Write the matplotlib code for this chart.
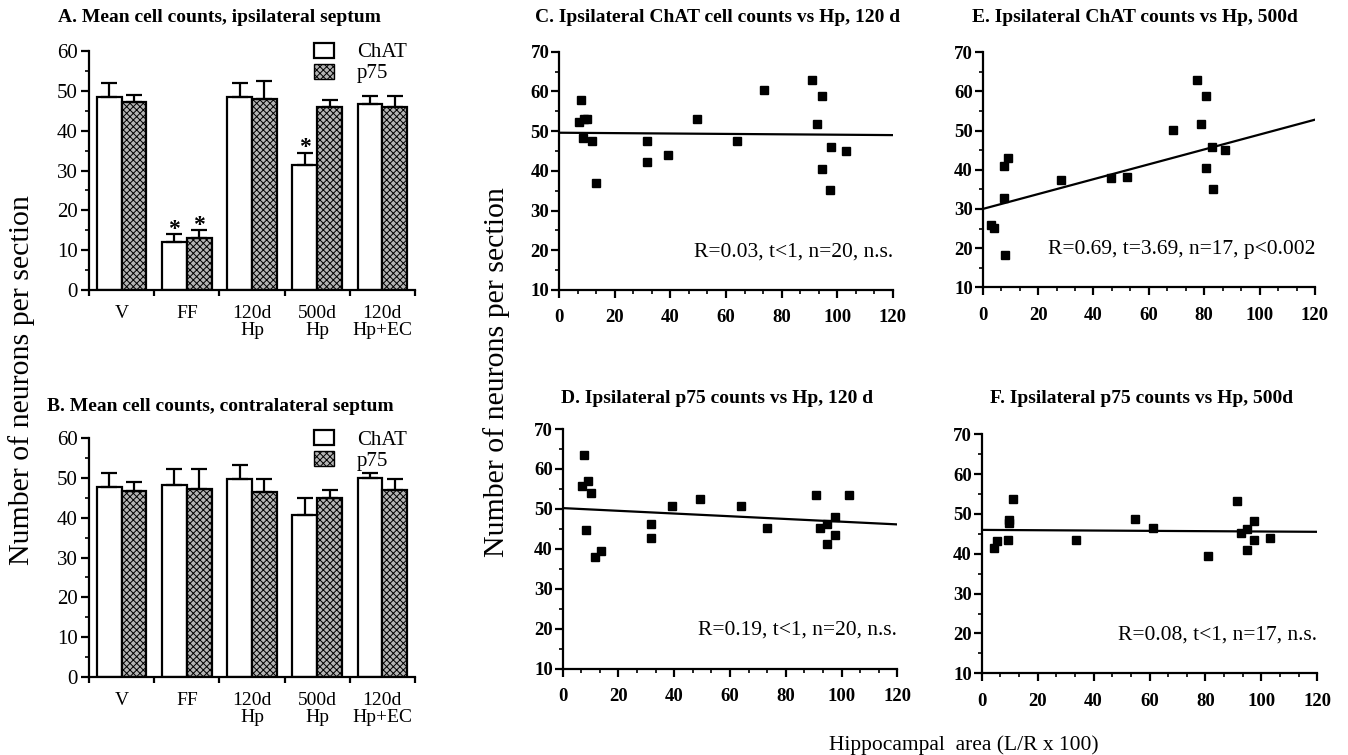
import numpy as np
import matplotlib
matplotlib.use("Agg")
import matplotlib.pyplot as plt
from matplotlib.patches import Patch
from matplotlib.ticker import MultipleLocator, AutoMinorLocator

plt.rcParams['font.family'] = ['Liberation Serif', 'DejaVu Serif']
plt.rcParams['hatch.linewidth'] = 0.7

# ---------------- data ----------------
groups = ["V", "FF", "120d\nHp", "500d\nHp", "120d\nHp+EC"]

# Panel A: ipsilateral septum
A_chat = [48.5, 12.0, 48.5, 31.5, 46.6]
A_chat_err = [3.5, 2.0, 3.5, 3.0, 2.0]
A_p75 = [47.2, 13.0, 48.0, 46.0, 46.0]
A_p75_err = [1.7, 2.0, 4.5, 1.6, 2.6]
A_star_chat = [False, True, False, True, False]
A_star_p75 = [False, True, False, False, False]

# Panel B: contralateral septum
B_chat = [47.9, 48.3, 49.7, 40.7, 50.0]
B_chat_err = [3.5, 4.1, 3.6, 4.4, 1.4]
B_p75 = [46.7, 47.4, 46.6, 45.1, 47.1]
B_p75_err = [2.3, 4.8, 3.1, 1.9, 2.6]

# Panel C: ipsilateral ChAT vs Hp, 120 d
C_x = [7.3, 7.9, 8.6, 9.1, 9.9, 11.8, 13.4, 31.7, 31.7, 39.1, 49.5, 63.8,
       73.6, 90.9, 92.7, 94.6, 94.6, 97.6, 97.5, 103.1]
C_y = [52.2, 57.8, 48.2, 53.0, 53.1, 47.6, 37.0, 47.5, 42.3, 43.9, 53.0, 47.5,
       60.3, 62.8, 51.7, 58.9, 40.5, 45.9, 35.1, 45.1]
C_fit = [49.6, -0.005]          # intercept, slope
C_text = "R=0.03, t<1, n=20, n.s."

# Panel D: ipsilateral p75 vs Hp, 120 d
D_x = [7.8, 6.9, 9.2, 10.2, 8.5, 11.7, 13.7, 31.5, 31.5, 39.2, 49.2, 63.8,
       73.4, 90.9, 92.4, 94.7, 94.7, 97.5, 97.5, 102.7]
D_y = [63.6, 55.7, 56.9, 53.9, 44.8, 38.0, 39.4, 46.2, 42.6, 50.7, 52.4, 50.7,
       45.2, 53.4, 45.3, 46.1, 41.1, 48.0, 43.4, 53.5]
D_fit = [50.2, -0.034]
D_text = "R=0.19, t<1, n=20, n.s."

# Panel E: ipsilateral ChAT vs Hp, 500 d
E_x = [3.0, 4.1, 7.6, 7.8, 9.1, 7.9, 28.4, 46.3, 52.0, 68.6, 77.5, 78.9,
       80.6, 80.6, 82.8, 83.0, 87.4]
E_y = [25.8, 25.1, 32.9, 41.0, 43.1, 18.3, 37.3, 38.0, 38.1, 50.2, 62.9, 51.6,
       58.9, 40.4, 45.9, 35.1, 45.1]
E_fit = [30.0, 0.19]
E_text = "R=0.69, t=3.69, n=17, p<0.002"

# Panel F: ipsilateral p75 vs Hp, 500 d
F_x = [4.3, 5.4, 9.5, 9.7, 9.7, 11.3, 33.6, 54.7, 61.1, 80.8, 91.2, 92.7,
       94.8, 94.9, 97.5, 97.5, 103.0]
F_y = [41.4, 43.1, 43.5, 47.8, 48.5, 53.7, 43.4, 48.7, 46.4, 39.5, 53.3, 45.2,
       46.3, 41.0, 48.2, 43.4, 44.0]
F_fit = [46.0, -0.004]
F_text = "R=0.08, t<1, n=17, n.s."

x_ticks = [0, 20, 40, 60, 80, 100, 120]
y_ticks_scatter = [10, 20, 30, 40, 50, 60, 70]
y_ticks_bar = [0, 10, 20, 30, 40, 50, 60]

# ---------------- figure ----------------
W, H = 1348, 755
fig = plt.figure(figsize=(W / 100, H / 100), dpi=100)


def px_axes(left, right, top, bottom):
    return fig.add_axes([left / W, 1 - bottom / H, (right - left) / W, (bottom - top) / H])


LW = 1.6
hatch_fc = '#b4b4b4'


def style_spines(ax):
    for s in ['top', 'right']:
        ax.spines[s].set_visible(False)
    for s in ['left', 'bottom']:
        ax.spines[s].set_linewidth(LW)


def bar_panel(ax, chat, chat_err, p75, p75_err, star_chat=None, star_p75=None):
    n = len(groups)
    idx = np.arange(n)
    bw = 0.38
    xc = idx + 0.12 + bw / 2
    xp = idx + 0.50 + bw / 2
    ax.bar(xc, chat, width=bw, color='white', edgecolor='black', linewidth=LW, zorder=2)
    ax.bar(xp, p75, width=bw, color=hatch_fc, edgecolor='black', linewidth=LW,
           hatch='xxxxx', zorder=2)
    zeros = np.zeros(n)
    ax.errorbar(xc, chat, yerr=[zeros, chat_err], fmt='none', ecolor='black',
                elinewidth=LW, capsize=5.5, capthick=LW, zorder=3)
    ax.errorbar(xp, p75, yerr=[zeros, p75_err], fmt='none', ecolor='black',
                elinewidth=LW, capsize=5.5, capthick=LW, zorder=3)
    if star_chat is not None:
        for i in range(n):
            if star_chat[i]:
                ax.text(xc[i], chat[i] + chat_err[i] + 1.2, '*', ha='center', va='center',
                        fontsize=17, fontweight='bold')
            if star_p75[i]:
                ax.text(xp[i], p75[i] + p75_err[i] + 1.2, '*', ha='center', va='center',
                        fontsize=17, fontweight='bold')
    ax.set_xlim(0, n)
    ax.set_ylim(0, 60)
    ax.set_yticks(y_ticks_bar)
    ax.yaxis.set_minor_locator(MultipleLocator(5))
    ax.set_xticks(idx + 0.5)
    ax.set_xticklabels(groups, fontsize=14, linespacing=1.0)
    ax.set_xticks(np.arange(n + 1), minor=True)
    ax.tick_params(axis='x', which='major', length=0, pad=11)
    ax.tick_params(axis='x', which='minor', length=4, width=LW, direction='out')
    ax.tick_params(axis='y', which='major', length=6, width=LW, labelsize=15, pad=2)
    ax.tick_params(axis='y', which='minor', length=3, width=1.2)
    style_spines(ax)
    ax.legend(handles=[Patch(facecolor='white', edgecolor='black', linewidth=LW),
                       Patch(facecolor=hatch_fc, edgecolor='black', linewidth=1.0,
                             hatch='xxxxx')],
              labels=['ChAT', 'p75'], loc='upper left', bbox_to_anchor=(0.665, 1.07),
              frameon=False, fontsize=15, handlelength=0.95, handleheight=0.75,
              labelspacing=0.05, handletextpad=1.1, borderaxespad=0)


def scatter_panel(ax, xs, ys, fit, text):
    ax.plot(xs, ys, linestyle='none', marker='s', markersize=6.3, color='black', zorder=3)
    xl = np.array([0, 120])
    ax.plot(xl, fit[0] + fit[1] * xl, color='black', linewidth=1.6, zorder=2)
    ax.set_xlim(0, 120)
    ax.set_ylim(10, 70)
    ax.set_xticks(x_ticks)
    ax.set_yticks(y_ticks_scatter)
    ax.xaxis.set_minor_locator(AutoMinorLocator(3))
    ax.yaxis.set_minor_locator(AutoMinorLocator(2))
    ax.tick_params(axis='both', which='major', length=6, width=LW, labelsize=13.5)
    ax.tick_params(axis='both', which='minor', length=3, width=1.2)
    ax.tick_params(axis='x', which='major', pad=8)
    ax.tick_params(axis='y', which='major', pad=1)
    for lab in ax.get_xticklabels() + ax.get_yticklabels():
        lab.set_fontweight('bold')
    style_spines(ax)
    ax.text(1.0, 0.16, text, transform=ax.transAxes, ha='right', va='center', fontsize=15.5)


axA = px_axes(89, 415, 51, 290)
bar_panel(axA, A_chat, A_chat_err, A_p75, A_p75_err, A_star_chat, A_star_p75)
axB = px_axes(89, 415, 438.5, 676.7)
bar_panel(axB, B_chat, B_chat_err, B_p75, B_p75_err)

axC = px_axes(559, 893, 51.7, 290)
scatter_panel(axC, C_x, C_y, C_fit, C_text)
axD = px_axes(562.7, 897.3, 429, 668.7)
scatter_panel(axD, D_x, D_y, D_fit, D_text)
axE = px_axes(982.7, 1315, 52.3, 287.3)
scatter_panel(axE, E_x, E_y, E_fit, E_text)
axF = px_axes(981.7, 1317.3, 434.3, 673.3)
scatter_panel(axF, F_x, F_y, F_fit, F_text)


def ftext(x, y, s, **kw):
    fig.text(x / W, 1 - y / H, s, **kw)


tkw = dict(ha='center', va='center', fontsize=14, fontweight='bold')
ftext(219, 18, "A. Mean cell counts, ipsilateral septum", **tkw)
ftext(220, 407, "B. Mean cell counts, contralateral septum", **tkw)
ftext(718, 18, "C. Ipsilateral ChAT cell counts vs Hp, 120 d", **tkw)
ftext(1135, 18, "E. Ipsilateral ChAT counts vs Hp, 500d", **tkw)
ftext(717, 398, "D. Ipsilateral p75 counts vs Hp, 120 d", **tkw)
ftext(1142, 398, "F. Ipsilateral p75 counts vs Hp, 500d", **tkw)

ftext(22, 380, "Number of neurons per section", ha='center', va='center',
      rotation=90, fontsize=21.5)
ftext(497, 372, "Number of neurons per section", ha='center', va='center',
      rotation=90, fontsize=21.5)
ftext(964, 745, "Hippocampal  area (L/R x 100)", ha='center', va='center', fontsize=15.5)

fig.savefig("out.png", dpi=100)
